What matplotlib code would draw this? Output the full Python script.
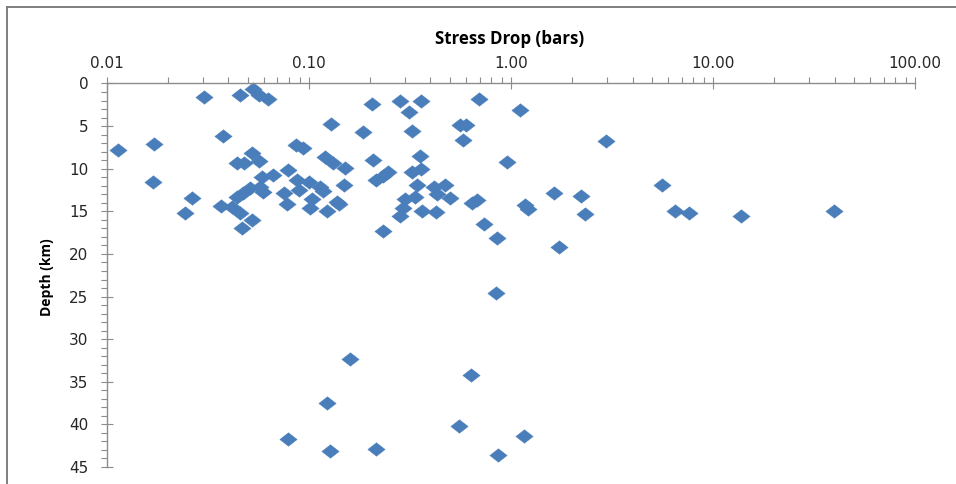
import numpy as np
import matplotlib.pyplot as plt
from matplotlib.lines import Line2D
from matplotlib.ticker import FixedLocator, LogLocator, FormatStrFormatter, MultipleLocator

# stress drop (bars) and depth (km)
stress_left = [0.0304, 0.0457, 0.0532, 0.0564, 0.0627, 0.0378, 0.0114, 0.0172, 0.0170,
               0.0523, 0.044, 0.048, 0.057, 0.0867, 0.0935, 0.0793, 0.0669, 0.0586,
               0.0575, 0.0513, 0.0593, 0.0475, 0.0441, 0.075, 0.0873, 0.0899, 0.078,
               0.0264, 0.0244, 0.0367, 0.0416, 0.0457, 0.0523, 0.0466]
depth_left = [1.6, 1.4, 0.7, 1.4, 1.8, 6.2, 7.8, 7.1, 11.6,
              8.1, 9.3, 9.3, 9.1, 7.2, 7.6, 10.1, 10.7, 11.0,
              12.1, 12.3, 12.7, 12.9, 13.3, 12.8, 11.3, 12.5, 14.1,
              13.4, 15.2, 14.4, 14.5, 15.2, 16.0, 16.9]

stress_mid = [0.206, 0.284, 0.360, 0.693, 0.312, 0.129, 0.186, 0.325, 0.562, 0.60, 0.577,
              0.1197, 0.1325, 0.1515, 0.208, 0.356, 0.360, 0.324, 0.216, 0.232, 0.247,
              0.0997, 0.1137, 0.118, 0.150, 0.1035, 0.1016, 0.123, 0.1377, 0.141,
              0.343, 0.415, 0.474, 0.43, 0.498, 0.300, 0.337, 0.294, 0.363, 0.284,
              0.426, 0.642, 0.68, 0.733, 0.234, 0.957, 1.114]
depth_mid = [2.4, 2.0, 2.1, 1.8, 3.3, 4.8, 5.7, 5.6, 4.9, 4.9, 6.6,
             8.6, 9.3, 9.9, 9.0, 8.5, 10.0, 10.4, 11.3, 10.9, 10.4,
             11.5, 12.1, 12.6, 11.9, 13.5, 14.6, 15.0, 13.9, 14.1,
             11.9, 12.1, 11.9, 13.0, 13.4, 13.5, 13.3, 14.6, 15.0, 15.6,
             15.1, 14.0, 13.7, 16.5, 17.3, 9.2, 3.1]

stress_right = [2.97, 5.62, 1.64, 2.23, 1.18, 1.22, 2.33, 6.48, 7.60, 13.7, 39.7,
                0.85, 1.73, 0.841]
depth_right = [6.8, 11.9, 12.8, 13.2, 14.3, 14.7, 15.3, 15.0, 15.2, 15.5, 15.0,
               18.1, 19.2, 24.6]

stress_deep = [0.160, 0.632, 0.123, 0.551, 0.0788, 1.157, 0.1276, 0.216, 0.861]
depth_deep = [32.3, 34.2, 37.5, 40.2, 41.7, 41.4, 43.1, 42.9, 43.6]

stress = stress_left + stress_mid + stress_right + stress_deep
depth = depth_left + depth_mid + depth_right + depth_deep

x_ticks = [0.01, 0.1, 1, 10, 100]
y_ticks = [0, 5, 10, 15, 20, 25, 30, 35, 40, 45]

W, H = 956, 484
fig = plt.figure(figsize=(W / 100, H / 100), dpi=100)
ax = fig.add_axes([106.7 / W, 1 - 467 / H, (915 - 106.7) / W, (467 - 83.5) / H])

diamond = [(-1, 0), (0, 0.78), (1, 0), (0, -0.78), (-1, 0)]
ax.plot(stress, depth, linestyle='none', marker=diamond, markersize=12.5,
        color='#4a7ebb', markeredgecolor='#4a7ebb', markeredgewidth=0.3, clip_on=False)

ax.set_xscale('log')
ax.set_xlim(0.01, 100)
ax.set_ylim(45, 0)

axis_col = '#8c8c8c'
for side in ['right', 'bottom']:
    ax.spines[side].set_visible(False)
for side in ['top', 'left']:
    ax.spines[side].set_color(axis_col)
    ax.spines[side].set_linewidth(1.0)

ax.xaxis.set_ticks_position('top')
ax.xaxis.set_major_locator(FixedLocator(x_ticks))
ax.xaxis.set_minor_locator(LogLocator(base=10, subs=np.arange(2, 10)))
ax.xaxis.set_major_formatter(FormatStrFormatter('%.2f'))
ax.xaxis.set_minor_formatter(plt.NullFormatter())
ax.yaxis.set_major_locator(FixedLocator(y_ticks))
ax.yaxis.set_minor_locator(MultipleLocator(1))

ax.tick_params(which='major', direction='inout', length=8.6, width=0.8, color=axis_col,
               labelsize=11, labelcolor='#262626')
ax.tick_params(which='minor', direction='out', length=4.3, width=0.8, color=axis_col)
ax.tick_params(axis='x', which='major', pad=5)
ax.tick_params(axis='y', which='major', pad=9)

fig.text(510 / W, 1 - 39 / H, 'Stress Drop (bars)', ha='center', va='center',
         fontsize=12.2, fontweight='bold', family='Open Sans')
fig.text(47 / W, 1 - 277 / H, 'Depth (km)', ha='center', va='center', rotation=90,
         fontsize=10, fontweight='bold', family='Open Sans')

# chart border (only left and top edges are visible in the crop)
fig.add_artist(Line2D([7 / W, 7 / W], [0, 1 - 7 / H], transform=fig.transFigure,
                      color='#7f7f7f', linewidth=1.4))
fig.add_artist(Line2D([7 / W, 1], [1 - 7 / H, 1 - 7 / H], transform=fig.transFigure,
                      color='#7f7f7f', linewidth=1.4))

fig.savefig('out.png', dpi=100)
